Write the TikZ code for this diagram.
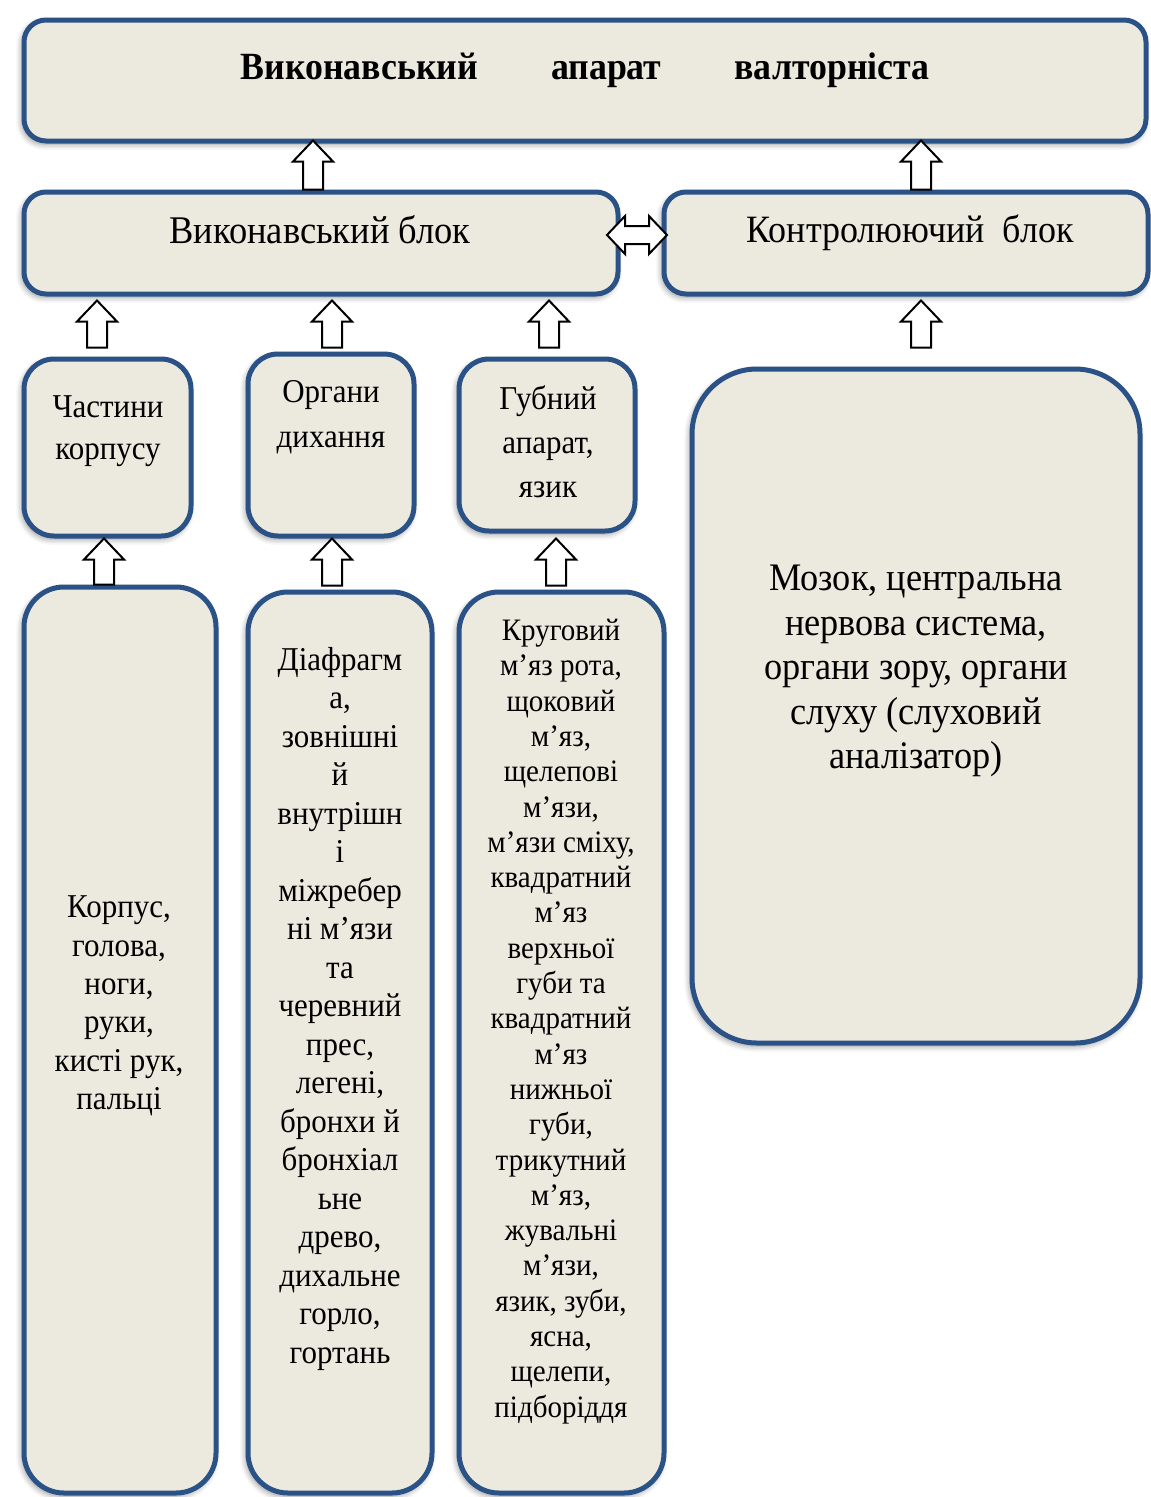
\documentclass[tikz,border=0pt]{standalone}
\usepackage{fontspec}
\setmainfont{Liberation Serif}[FakeStretch=0.93]
\usepackage{xcolor}
\usepackage{tikz}
\usetikzlibrary{calc,shadows.blur}

\definecolor{boxfill}{HTML}{ECEADF}
\definecolor{boxline}{HTML}{2A5286}

\begin{document}
\begin{tikzpicture}[x=1pt, y=-1pt,
        box/.style={draw=boxline, fill=boxfill, line width=5pt, rectangle, inner sep=0pt,
            blur shadow={shadow xshift=-2pt, shadow yshift=-3pt, shadow blur radius=6pt, shadow opacity=45}},
        txt/.style={align=center, inner sep=0pt},
        arrline/.style={draw=black, fill=white, line width=2pt, line join=miter},
        upblock/.pic={\path[arrline] (-10,0) -- (-10,-#1+21) -- (-20,-#1+21) -- (0,-#1) -- (20,-#1+21) -- (10,-#1+21) -- (10,0) -- cycle;}]
        \useasboundingbox (0,0) rectangle (1151,1497);

        % Top level
        \node[box, rounded corners=22pt, minimum width=1122pt, minimum height=121pt] (apparat) at (585,80.5) {};
        \node[txt, font=\bfseries\fontsize{38.5}{42}\selectfont] (apparattxt) at (585,70)
            {Виконавський\hspace{73pt}апарат\hspace{73pt}валторніста};

        % Blocks
        \node[box, rounded corners=22pt, minimum width=594pt, minimum height=102pt] (vykblok) at (321,243) {};
        \node[txt, font=\fontsize{39.2}{42}\selectfont] (vyktxt) at (320,230) {Виконавський блок};
        \node[box, rounded corners=22pt, minimum width=484pt, minimum height=102pt] (kontrblok) at (906,243) {};
        \node[txt, font=\fontsize{38.7}{42}\selectfont] (kontrtxt) at (910,233) {Контролюючий\ \ блок};

        % Organ groups
        \node[box, rounded corners=30pt, minimum width=167pt, minimum height=177pt] (chast) at (107.5,447.5) {};
        \node[txt, font=\fontsize{33.3}{42}\selectfont] (chasttxt) at (108,431) {Частини\\корпусу};
        \node[box, rounded corners=30pt, minimum width=166pt, minimum height=182pt] (orgdyh) at (331,445) {};
        \node[txt, font=\fontsize{33.3}{45}\selectfont] (orgdyhtxt) at (331,417.5) {Органи\\дихання};
        \node[box, rounded corners=30pt, minimum width=176pt, minimum height=172pt] (gubnyi) at (547,445) {};
        \node[txt, font=\fontsize{33.3}{44}\selectfont] (gubnyitxt) at (548,442) {Губний\\апарат,\\язик};
        \node[box, rounded corners=65pt, minimum width=448pt, minimum height=674pt] (mozok) at (916,706) {};
        \node[txt, font=\fontsize{39}{44.5}\selectfont] (mozoktxt) at (916,671)
            {Мозок, центральна\\нервова система,\\органи зору, органи\\слуху (слуховий\\аналізатор)};

        % Lower level
        \node[box, rounded corners=40pt, minimum width=192pt, minimum height=906pt] (korpus) at (120,1040) {};
        \node[txt, font=\fontsize{33.3}{38.4}\selectfont] (korpustxt) at (119,1006)
            {Корпус,\\голова,\\ноги,\\руки,\\кисті рук,\\пальці};
        \node[box, rounded corners=40pt, minimum width=184pt, minimum height=901pt] (diafr) at (340,1042.5) {};
        \node[txt, font=\fontsize{33.3}{38.5}\selectfont] (diafrtxt) at (340,1008.5)
            {Діафрагм\\а,\\зовнішні\\й\\внутрішн\\і\\міжребер\\ні м’язи\\та\\черевний\\прес,\\легені,\\бронхи й\\бронхіал\\ьне\\древо,\\дихальне\\горло,\\гортань};
        \node[box, rounded corners=40pt, minimum width=205pt, minimum height=901pt] (krug) at (561.5,1042.5) {};
        \node[txt, font=\fontsize{31.2}{35.3}\selectfont] (krugtxt) at (561,1021.5)
            {Круговий\\м’яз рота,\\щоковий\\м’яз,\\щелепові\\м’язи,\\м’язи сміху,\\квадратний\\м’яз\\верхньої\\губи та\\квадратний\\м’яз\\нижньої\\губи,\\трикутний\\м’яз,\\жувальні\\м’язи,\\язик, зуби,\\ясна,\\щелепи,\\підборіддя};

        % Block arrows
        \path ($(vykblok.north)+(-8,0)$) pic {upblock=49};
        \path ($(kontrblok.north)+(15,0)$) pic {upblock=49};
        \path ($(chast.north)+(-10.5,-9)$) pic {upblock=47};
        \path ($(orgdyh.north)+(1,-4)$) pic {upblock=47};
        \path ($(gubnyi.north)+(2,-9)$) pic {upblock=47};
        \path ($(mozok.north)+(5,-19)$) pic {upblock=47};
        \path ($(korpus.north)+(-16,0)$) pic {upblock=46};
        \path ($(diafr.north)+(-8,-4)$) pic {upblock=47};
        \path ($(krug.north)+(-5.5,-4)$) pic {upblock=47};

        % Exchange between blocks
        \coordinate (exch) at ($(vykblok.east)!0.5!(kontrblok.west)+(-4,-8)$);
        \path[arrline] ($(exch)+(-30,0)$) -- ++(18,-19) -- ++(0,10) -- ++(24,0) -- ++(0,-10) -- ++(18,19)
            -- ++(-18,19) -- ++(0,-10) -- ++(-24,0) -- ++(0,10) -- cycle;
\end{tikzpicture}
\end{document}
